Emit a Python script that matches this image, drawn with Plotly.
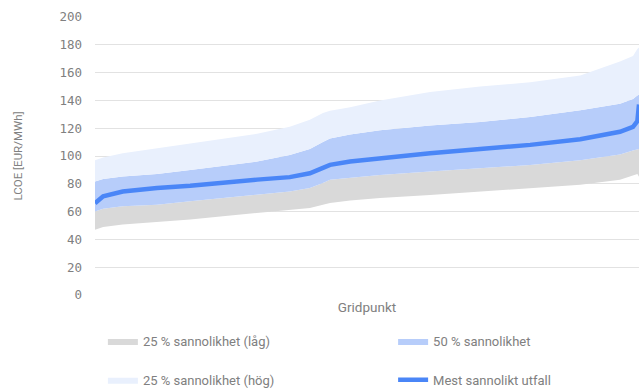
import plotly.graph_objects as go

# Gridpoint index (sorted by most likely LCOE), 0..1000
gridpoint = [0, 15, 51, 114, 175, 235, 298, 358, 395, 419, 432, 469, 524, 616, 708, 800, 892, 965, 989, 997, 1000]

# LCOE [EUR/MWh]
lower_bound = [47, 49, 50.7, 52.4, 54.3, 56.7, 59, 61, 62.6, 65, 66.2, 68, 69.8, 72, 74.5, 77, 79.3, 83, 86, 87, 85]
q25 = [60, 62, 63.8, 65, 67.4, 69.8, 72, 74.5, 77, 80.5, 83, 84.5, 86.4, 88.8, 91.2, 93.6, 97, 101, 104, 104.8, 105]
q75 = [81.7, 83.5, 85.2, 87, 90, 92.9, 96, 100.7, 105, 110, 112.6, 115.5, 118.6, 122, 124.5, 128, 133, 137.6, 141, 143.6, 144]
upper_bound = [97, 99, 102, 105.5, 109, 112.6, 116, 121, 126, 131, 132.5, 135, 140, 146, 150, 153, 158, 168, 172, 177, 178]
most_likely = [66, 71, 74.5, 77, 78.6, 81, 83, 84.8, 87.6, 91.5, 93.6, 96, 98.3, 102, 105, 108, 112, 117.4, 121, 125, 137]

y_ticks = [0, 20, 40, 60, 80, 100, 120, 140, 160, 180, 200]

GRAY = "#d9d9d9"
BLUE = "#b7cdfa"
LIGHT = "#e9f0fd"
LINE = "#4a86f7"
TXT = "#808080"
FONT = "Roboto"

fig = go.Figure()
fig.add_trace(go.Scatter(x=gridpoint, y=lower_bound, mode="lines", line=dict(width=0, color=GRAY),
                         showlegend=False, hoverinfo="skip"))
fig.add_trace(go.Scatter(x=gridpoint, y=q25, mode="lines", line=dict(width=0, color=GRAY),
                         fill="tonexty", fillcolor=GRAY, name="25 % sannolikhet (låg)", legend="legend"))
fig.add_trace(go.Scatter(x=gridpoint, y=q75, mode="lines", line=dict(width=0, color=BLUE),
                         fill="tonexty", fillcolor=BLUE, name="50 % sannolikhet", legend="legend2"))
fig.add_trace(go.Scatter(x=gridpoint, y=upper_bound, mode="lines", line=dict(width=0, color=LIGHT),
                         fill="tonexty", fillcolor=LIGHT, name="25 % sannolikhet (hög)", legend="legend3"))
fig.add_trace(go.Scatter(x=gridpoint, y=most_likely, mode="lines", line=dict(width=4.5, color=LINE),
                         name="Mest sannolikt utfall", legend="legend4"))

def leg(x, y):
    return dict(orientation="h", xanchor="left", yanchor="middle", x=x, y=y,
                font=dict(family=FONT, size=13, color=TXT), bgcolor="rgba(0,0,0,0)")

row1, row2 = -0.166, -0.305
col1, col2 = 0.0145, 0.548

fig.update_layout(
    width=639, height=388,
    margin=dict(l=95, r=0, t=17, b=93, autoexpand=False),
    plot_bgcolor="white", paper_bgcolor="white",
    font=dict(family=FONT, color=TXT),
    legend=leg(col1, row1),
    legend2=leg(col2, row1),
    legend3=leg(col1, row2),
    legend4=leg(col2, row2),
    xaxis=dict(range=[0, 1000], showticklabels=False, showgrid=False, zeroline=False, ticks="",
               title=dict(text="Gridpunkt", font=dict(family=FONT, size=13.5, color=TXT), standoff=7)),
    yaxis=dict(range=[0, 200], tickvals=y_ticks, showgrid=True, gridcolor="#e2e2e2", gridwidth=1,
               zeroline=False, ticks="", ticklabelstandoff=12,
               tickfont=dict(family="DejaVu Sans Mono", size=12.5, color=TXT),
               title=dict(text="LCOE [EUR/MWh]", font=dict(family=FONT, size=11.5, color=TXT), standoff=34)),
)

fig.write_html("out.html", config={"displayModeBar": False},
               post_script="document.body.style.margin='0';document.body.style.overflow='hidden';")
